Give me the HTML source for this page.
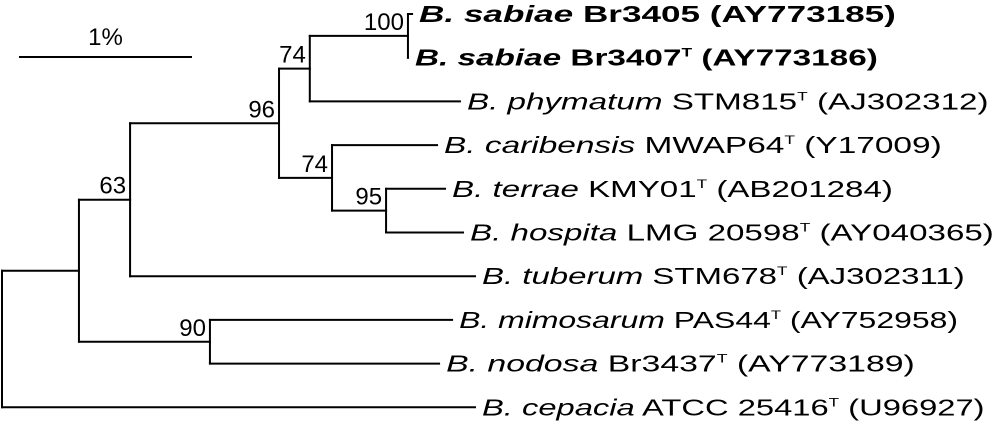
<!DOCTYPE html>
<html><head><meta charset="utf-8"><style>
html,body{margin:0;padding:0;background:#fff;}
svg{display:block;font-family:"Liberation Sans",Arial,sans-serif;}
</style></head><body>
<svg id="tree" width="994" height="427" viewBox="0 0 994 427" xmlns="http://www.w3.org/2000/svg"></svg>
<script>
// leaf order (top to bottom), leaf branch depths (% divergence), labels
const leafIds = ["sab1","sab2","phy","car","ter","hos","tub","mim","nod","cep"];
const leafDepths = [2.398,2.374,2.678,2.544,2.591,2.696,2.766,2.632,2.556,2.766];
const leafLabels = [
  [["B. sabiae","bi"],[" Br3405 (AY773185)","b"]],
  [["B. sabiae","bi"],[" Br3407","b"],["T","bsup"],[" (AY773186)","b"]],
  [["B. phymatum","i"],[" STM815",""],["T","sup"],[" (AJ302312)",""]],
  [["B. caribensis","i"],[" MWAP64",""],["T","sup"],[" (Y17009)",""]],
  [["B. terrae","i"],[" KMY01",""],["T","sup"],[" (AB201284)",""]],
  [["B. hospita","i"],[" LMG 20598",""],["T","sup"],[" (AY040365)",""]],
  [["B. tuberum","i"],[" STM678",""],["T","sup"],[" (AJ302311)",""]],
  [["B. mimosarum","i"],[" PAS44",""],["T","sup"],[" (AY752958)",""]],
  [["B. nodosa","i"],[" Br3437",""],["T","sup"],[" (AY773189)",""]],
  [["B. cepacia","i"],[" ATCC 25416",""],["T","sup"],[" (U96927)",""]]
];
const labelWidths = [477,463,522,498,441,524,483,499,469,503];
// internal nodes: id, depth, children, bootstrap
const nodeIds = ["n100","n74a","n95","n74b","n96","n96g","n90","n63","root"];
const nodeDepths = [2.374,1.80,2.246,1.93,1.62,0.749,1.216,0.45,0];
const nodeChildren = [["sab1","sab2"],["n100","phy"],["ter","hos"],["car","n95"],["n74a","n74b"],["n96","tub"],["mim","nod"],["n96g","n90"],["n63","cep"]];
const nodeSupport = ["100","74","95","74","96","63","90","",""];
const scaleBarValue = 1; // percent

const PX_PER_PCT = 171, X0 = 2, Y0 = 14, DY = 43.7;
const xs = d => X0 + d*PX_PER_PCT;
const ys = i => Y0 + i*DY;
const NS = "http://www.w3.org/2000/svg";
const svg = document.getElementById("tree");
function mk(tag, attrs){const e=document.createElementNS(NS,tag);for(const k in attrs)e.setAttribute(k,attrs[k]);svg.appendChild(e);return e;}
const pos = {};
leafIds.forEach((id,i)=>{pos[id]={x:xs(leafDepths[i]),y:ys(i)};});
nodeIds.forEach((id,i)=>{
  const c=nodeChildren[i];
  pos[id]={x:xs(nodeDepths[i]),y:(pos[c[0]].y+pos[c[c.length-1]].y)/2};
});
const line = (x1,y1,x2,y2,name)=>{
  const l=mk("line",{x1,y1,x2,y2,stroke:"#000","stroke-width":2,"stroke-linecap":"square"});
  
  
};
nodeIds.forEach((id,i)=>{
  const p=pos[id], c=nodeChildren[i];
  line(p.x,pos[c[0]].y,p.x,pos[c[c.length-1]].y,id+"-vertical");
  c.forEach(ch=>line(p.x,pos[ch].y,pos[ch].x,pos[ch].y,ch+"-branch"));
  if(nodeSupport[i]){
    const t=mk("text",{x:p.x-4,y:p.y-6,"font-size":24,"text-anchor":"end"});
    t.textContent=nodeSupport[i];
    
    
  }
});
leafIds.forEach((id,i)=>{
  const p=pos[id];
  const lx=p.x+7, ly=p.y+8;
  const t=mk("text",{x:0,y:0,"font-size":23});
  
  
  let up=false;
  leafLabels[i].forEach(([s,st])=>{
    const sp=document.createElementNS(NS,"tspan");
    sp.textContent=s;
    if(st.includes("i"))sp.setAttribute("font-style","italic");
    if(st.includes("b"))sp.setAttribute("font-weight","bold");
    if(st.includes("sup")){sp.setAttribute("font-size","12");sp.setAttribute("dy","-9");up=true;}
    else if(up){sp.setAttribute("dy","9");up=false;}
    t.appendChild(sp);
  });
  const w=t.getComputedTextLength()||labelWidths[i];
  const sx=labelWidths[i]/w;
  t.setAttribute("transform","translate("+lx+","+ly+") scale("+sx+",1)");
});
// scale bar
line(20,57,20+scaleBarValue*PX_PER_PCT,57,"scale-bar");
const sl=mk("text",{x:20+scaleBarValue*PX_PER_PCT/2,y:45,"font-size":24,"text-anchor":"middle"});
sl.textContent=scaleBarValue+"%";


</script>
</body></html>
